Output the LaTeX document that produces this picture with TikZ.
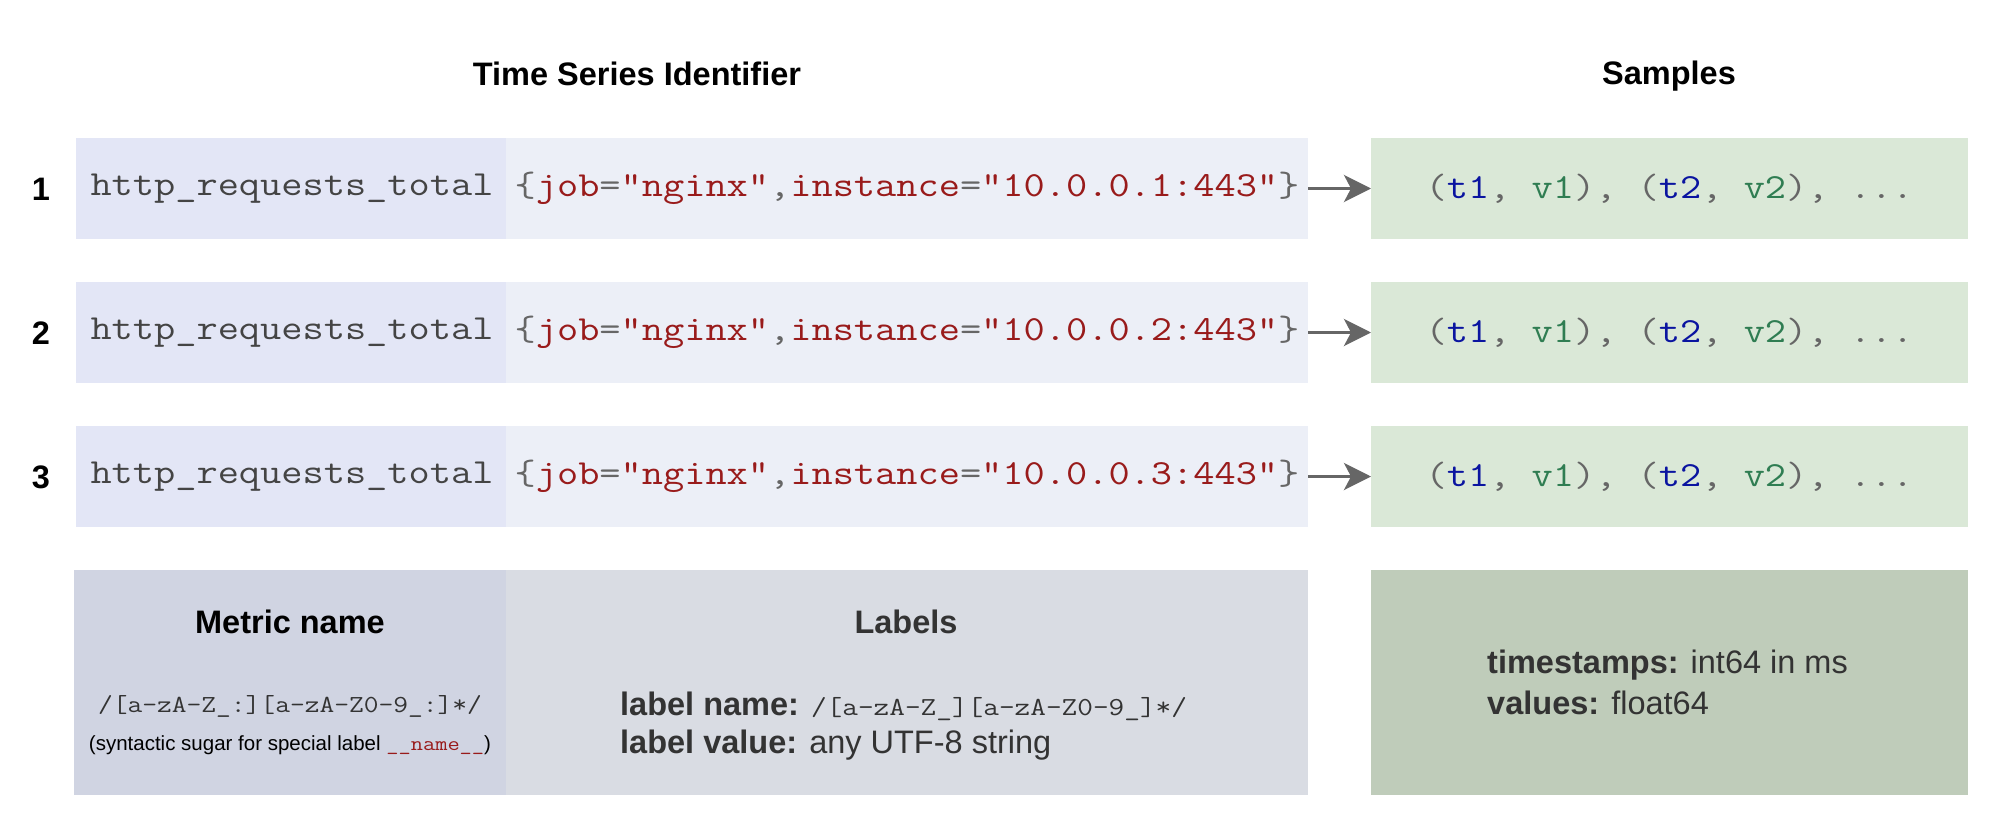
\documentclass[tikz,border=0pt]{standalone}
\usepackage{fontspec}
\setmainfont{Liberation Sans}
\usetikzlibrary{arrows.meta}

\definecolor{mfill}{HTML}{E3E6F6}
\definecolor{lfill}{HTML}{ECEFF7}
\definecolor{sfill}{HTML}{DAE8D7}
\definecolor{mdark}{HTML}{D0D4E2}
\definecolor{ldark}{HTML}{D9DCE3}
\definecolor{sdark}{HTML}{BFCCBA}
\definecolor{codegray}{HTML}{666666}
\definecolor{codedark}{HTML}{444444}
\definecolor{codered}{HTML}{991B1B}
\definecolor{codeblue}{HTML}{0A14A0}
\definecolor{codegreen}{HTML}{2F7D52}
\definecolor{txtdark}{HTML}{333333}
\definecolor{arrgray}{HTML}{666666}

\newcommand{\code}[1]{\scalebox{1.17}[1]{\ttfamily #1}}
\newcommand{\cred}[1]{\textcolor{codered}{#1}}
\newcommand{\cblue}[1]{\textcolor{codeblue}{#1}}
\newcommand{\cgreen}[1]{\textcolor{codegreen}{#1}}
\newcommand{\cgray}[1]{\textcolor{codegray}{#1}}
\newcommand{\labelset}[1]{\code{\cgray{\{}\cred{job}\cgray{=}\cred{"nginx"}\cgray{,}\cred{instance}\cgray{=}\cred{"10.0.0.#1:443"}\cgray{\}}}}
\newcommand{\samplelist}{\code{\cgray{(}\cblue{t1}\cgray{, }\cgreen{v1}\cgray{), (}\cblue{t2}\cgray{, }\cgreen{v2}\cgray{), ...}}}

\tikzset{
  box/.style={inner sep=0pt, outer sep=0pt, minimum height=101pt},
  mbox/.style={box, fill=mfill, minimum width=432pt},
  lbox/.style={box, fill=lfill, minimum width=802pt},
  sbox/.style={box, fill=sfill, minimum width=597pt},
  rowcode/.style={font=\fontsize{35.2}{40}\selectfont, text=codedark},
  bigbox/.style={inner sep=0pt, outer sep=0pt, minimum height=225pt},
  title/.style={font=\fontsize{32.5}{39}\selectfont\bfseries, inner sep=0pt},
  body/.style={font=\fontsize{32.5}{39}\selectfont, text=txtdark, inner sep=0pt},
  arr/.style={draw=arrgray, line width=3.5pt, -{Stealth[length=27pt, width=27pt, inset=7pt]}}
}

\begin{document}
\begin{tikzpicture}[x=1pt, y=-1pt]
\useasboundingbox (0,0) rectangle (2010,840);

\node[title] (tsid) at (637,74) {Time Series Identifier};
\node[title] (samp) at (1669,76) {Samples};

\node[title] (n1) at (41,189) {1};
\node[mbox, rowcode] (m1) at (292,188.5) {\code{http\_requests\_total}};
\node[lbox, rowcode] (l1) at (907,188.5) {\labelset{1}};
\node[sbox, rowcode] (s1) at (1669.5,188.5) {\samplelist};
\draw[arr] (l1) -- (s1);

\node[title] (n2) at (41,333) {2};
\node[mbox, rowcode] (m2) at (292,332.5) {\code{http\_requests\_total}};
\node[lbox, rowcode] (l2) at (907,332.5) {\labelset{2}};
\node[sbox, rowcode] (s2) at (1669.5,332.5) {\samplelist};
\draw[arr] (l2) -- (s2);

\node[title] (n3) at (41,477) {3};
\node[mbox, rowcode] (m3) at (292,476.5) {\code{http\_requests\_total}};
\node[lbox, rowcode] (l3) at (907,476.5) {\labelset{3}};
\node[sbox, rowcode] (s3) at (1669.5,476.5) {\samplelist};
\draw[arr] (l3) -- (s3);

% legend boxes
\node[bigbox, fill=mdark, minimum width=432pt] (mleg) at (290,682.5) {};
\node[bigbox, fill=ldark, minimum width=802pt] (lleg) at (907,682.5) {};
\node[bigbox, fill=sdark, minimum width=597pt] (sleg) at (1669.5,682.5) {};

\node[title] (mtitle) at (290,622) {Metric name};
\node[font=\fontsize{24.5}{29}\selectfont, text=txtdark, inner sep=0pt] (mregex) at (290,706) {\code{/[a-zA-Z\_:][a-zA-Z0-9\_:]*/}};
\node[font=\fontsize{20.5}{24}\selectfont, inner sep=0pt] (msugar) at (290,745) {(syntactic sugar for special label {\fontsize{20.3}{24}\selectfont\code{\cred{\_\_name\_\_}}})};

\node[title, text=txtdark] (ltitle) at (906,622) {Labels};
\node[body, anchor=base west] (lname) at (620,715) {\textbf{label name:} {\fontsize{26}{30}\selectfont\code{/[a-zA-Z\_][a-zA-Z0-9\_]*/}}};
\node[body, anchor=base west] (lvalue) at (620,753) {\textbf{label value:} any UTF-8 string};

\node[body, anchor=base west] (tstamp) at (1487,673) {\textbf{timestamps:} int64 in ms};
\node[body, anchor=base west] (tvalue) at (1487,714) {\textbf{values:} float64};
\end{tikzpicture}
\end{document}
